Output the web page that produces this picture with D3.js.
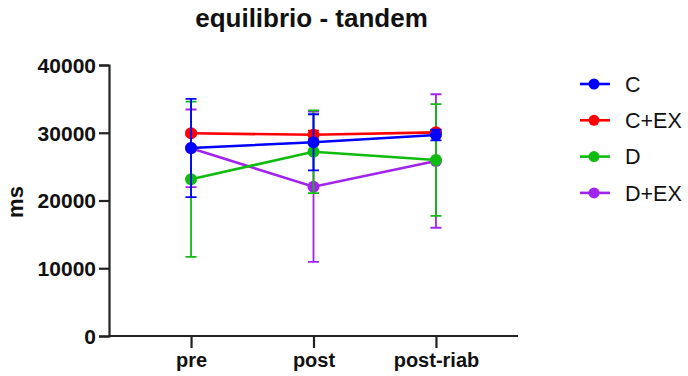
<!DOCTYPE html>
<html>
  <head>
    <title>equilibrio - tandem</title>
    <script src="https://d3js.org/d3.v7.min.js"></script>
    <style>
      body { margin: 0; background: #fff; }
      text { font-family: "Liberation Sans", Arial, sans-serif; }
    </style>
  </head>
  <body>
    <svg width="688" height="376"></svg>

    <script>
      const categories = ["pre", "post", "post-riab"];
      const groups = ["C", "C+EX", "D", "D+EX"];
      const colors = ["#0000ff", "#ff0000", "#10bb10", "#a222ee"];

      // mean and SD per group, in ms
      const meanC = [27750, 28590, 29670];
      const sdC = [7260, 4140, 800];
      const meanCEX = [29920, 29700, 30060];
      const sdCEX = [300, 600, 300];
      const meanD = [23130, 27200, 25980];
      const sdD = [11450, 6100, 8240];
      const meanDEX = [27700, 22040, 25830];
      const sdDEX = [5730, 11100, 9850];

      const yTicks = [0, 10000, 20000, 30000, 40000];

      const series = [
        { name: groups[0], color: colors[0], mean: meanC, sd: sdC },
        { name: groups[1], color: colors[1], mean: meanCEX, sd: sdCEX },
        { name: groups[2], color: colors[2], mean: meanD, sd: sdD },
        { name: groups[3], color: colors[3], mean: meanDEX, sd: sdDEX }
      ];

      const svg = d3.select("svg");
      const plotLeft = 109, plotRight = 518, plotTop = 65, plotBottom = 336;

      const x = d3.scalePoint().domain(categories).range([plotLeft, plotRight]).padding(0.67);
      const y = d3.scaleLinear().domain([0, 40000]).range([plotBottom, plotTop]);

      // title
      svg.append("text")
        .attr("x", 311.5)
        .attr("y", 27)
        .attr("text-anchor", "middle")
        .attr("font-size", 26)
        .attr("font-weight", "bold")
        .attr("fill", "#111")
        .text("equilibrio - tandem");

      // axes
      const yAxis = svg.append("g")
        .attr("transform", `translate(${plotLeft},0)`)
        .call(d3.axisLeft(y).tickValues(yTicks).tickSize(10).tickPadding(3).tickFormat(d3.format("d")));
      const xAxis = svg.append("g")
        .attr("transform", `translate(0,${plotBottom})`)
        .call(d3.axisBottom(x).tickSize(12).tickPadding(5));
      xAxis.select(".domain").attr("d", `M${plotLeft},0H${plotRight}`);

      [yAxis, xAxis].forEach(g => {
        g.select(".domain").attr("stroke", "#222").attr("stroke-width", 2.2);
        g.selectAll(".tick line").attr("stroke", "#222").attr("stroke-width", 2.2);
        g.selectAll(".tick text")
          .attr("fill", "#111")
          .attr("font-size", 20)
          .attr("font-weight", "bold")
          .attr("font-family", "Liberation Sans, Arial, sans-serif");
      });
      yAxis.selectAll(".tick text").attr("font-size", 21).attr("dy", "0.35em");

      svg.append("text")
        .attr("transform", `translate(23,202) rotate(-90)`)
        .attr("text-anchor", "middle")
        .attr("font-size", 22)
        .attr("font-weight", "bold")
        .attr("fill", "#111")
        .text("ms");

      // draw D+EX first so C ends on top
      const drawOrder = [3, 2, 1, 0];
      const line = d3.line().x((d, i) => x(categories[i])).y(d => y(d));

      drawOrder.forEach(k => {
        const s = series[k];
        const g = svg.append("g");
        const cap = 5.5;

        categories.forEach((c, i) => {
          const cx = x(c);
          const hi = y(s.mean[i] + s.sd[i]);
          const lo = y(s.mean[i] - s.sd[i]);
          g.append("path")
            .attr("d", `M${cx},${hi}V${lo}M${cx - cap},${hi}H${cx + cap}M${cx - cap},${lo}H${cx + cap}`)
            .attr("stroke", s.color)
            .attr("stroke-width", 1.8)
            .attr("fill", "none");
        });

        g.append("path")
          .datum(s.mean)
          .attr("d", line)
          .attr("stroke", s.color)
          .attr("stroke-width", 2.6)
          .attr("fill", "none");

        g.selectAll("circle")
          .data(s.mean)
          .join("circle")
          .attr("cx", (d, i) => x(categories[i]))
          .attr("cy", d => y(d))
          .attr("r", 6)
          .attr("fill", s.color);
      });

      // legend
      const legend = svg.append("g").attr("transform", "translate(580,84)");
      series.forEach((s, i) => {
        const row = legend.append("g").attr("transform", `translate(0,${i * 36.3})`);
        row.append("line")
          .attr("x1", 0).attr("x2", 30)
          .attr("stroke", s.color).attr("stroke-width", 2.6);
        row.append("circle").attr("cx", 14).attr("r", 5.5).attr("fill", s.color);
        row.append("text")
          .attr("x", 45)
          .attr("dy", "0.36em")
          .attr("font-size", 21.5)
          .attr("fill", "#111")
          .text(s.name);
      });
    </script>
  </body>
</html>
